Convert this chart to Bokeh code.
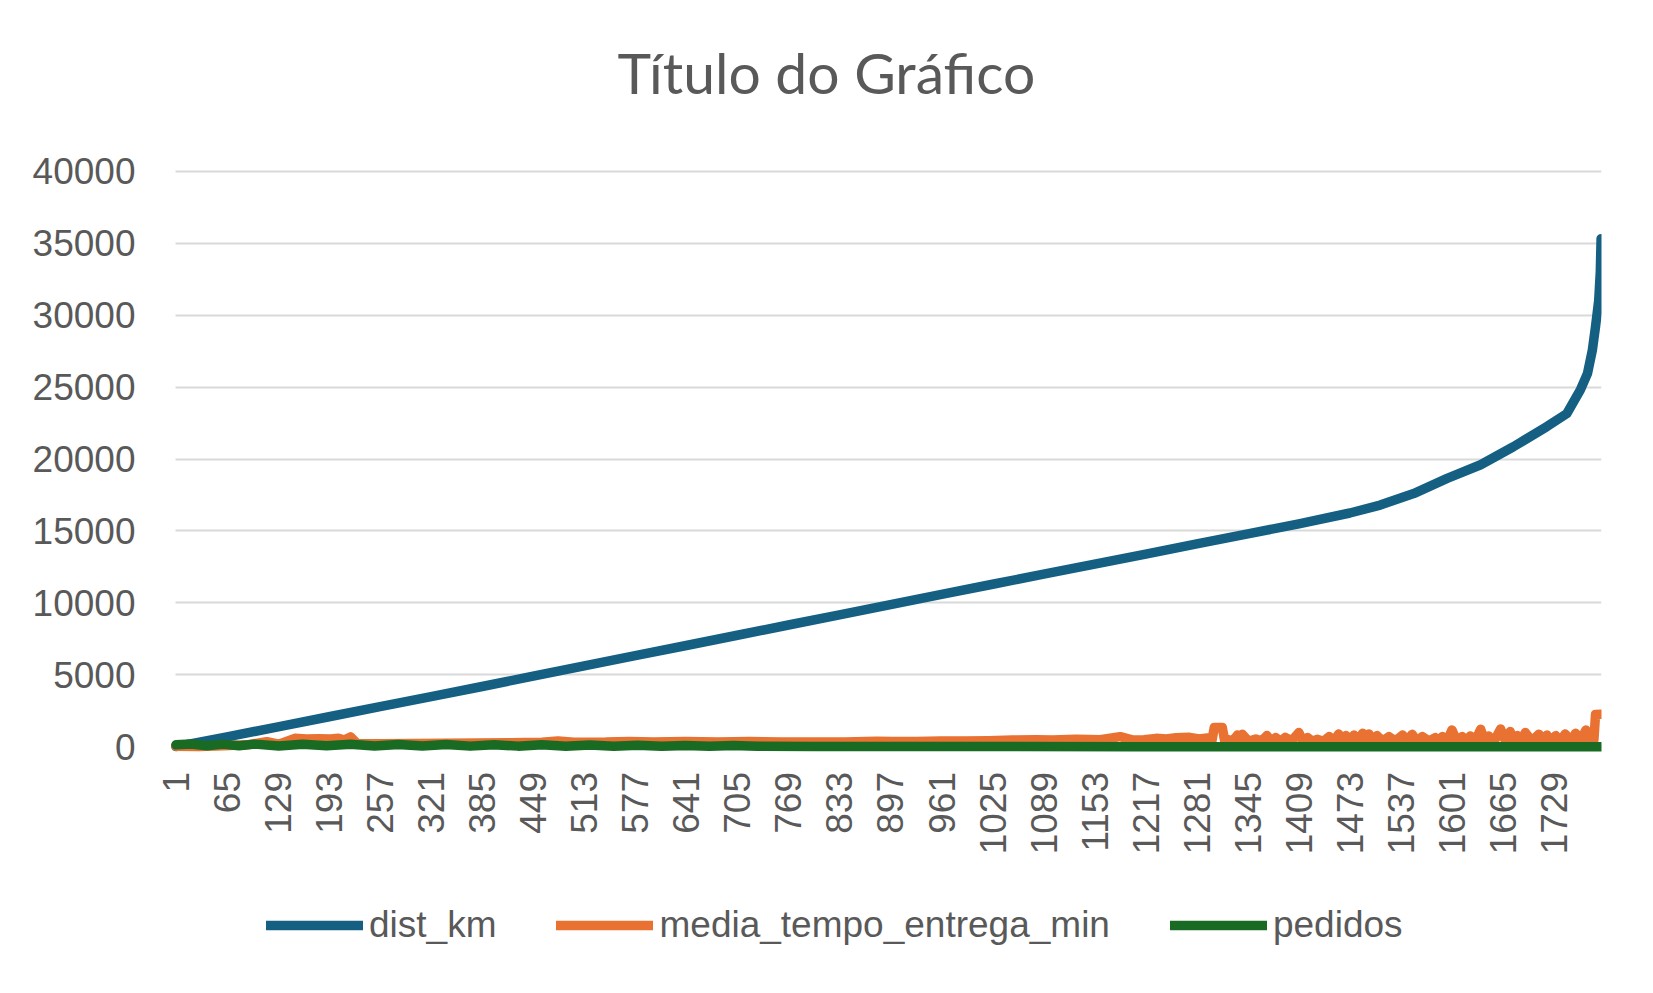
import math
from bokeh.plotting import figure
from bokeh.models import Range1d, FixedTicker, Legend, LegendItem, Title
from bokeh.embed import file_html
from bokeh.resources import INLINE

# ---------------- data ----------------
x_ticks = [1, 65, 129, 193, 257, 321, 385, 449, 513, 577, 641, 705, 769, 833,
           897, 961, 1025, 1089, 1153, 1217, 1281, 1345, 1409, 1473, 1537,
           1601, 1665, 1729]
y_ticks = [0, 5000, 10000, 15000, 20000, 25000, 30000, 35000, 40000]
n_categories = 1788

dist_cat = [1, 65, 129, 193, 257, 321, 385, 449, 513, 577, 641, 705, 769, 833,
            897, 961, 1025, 1089, 1153, 1217, 1281, 1345, 1409, 1473, 1511,
            1553, 1595, 1637, 1678, 1720, 1745, 1762, 1771, 1777, 1781, 1785,
            1787, 1788]
dist_km = [30, 700, 1400, 2100, 2800, 3500, 4200, 4920, 5630, 6340, 7050,
           7760, 8470, 9180, 9890, 10600, 11300, 12000, 12700, 13400, 14100,
           14800, 15500, 16250, 16800, 17600, 18650, 19600, 20850, 22250,
           23150, 24800, 25950, 27550, 29200, 31000, 33000, 35300]

tempo_cat = [1, 30, 60, 90, 115, 130, 150, 165, 180, 195, 205, 212, 220, 228,
             260, 300, 340, 380, 420, 460, 480, 500, 540, 570, 600, 640, 680,
             720, 760, 800, 840, 880, 900, 930, 960, 990, 1020, 1050, 1080,
             1100, 1130, 1160, 1185, 1200, 1215, 1230, 1243, 1255, 1272, 1284,
             1297, 1300, 1303, 1313, 1316, 1319, 1326, 1332, 1335, 1338, 1346,
             1355, 1362, 1369, 1374, 1380, 1386, 1392, 1400, 1409, 1414, 1420,
             1426, 1432, 1440, 1447, 1453, 1459, 1464, 1468, 1473, 1478, 1484,
             1489, 1493, 1497, 1502, 1507, 1514, 1522, 1530, 1539, 1545, 1551,
             1557, 1564, 1572, 1580, 1585, 1589, 1595, 1601, 1607, 1614, 1619,
             1624, 1630, 1637, 1642, 1647, 1654, 1662, 1668, 1674, 1679, 1683,
             1688, 1693, 1701, 1710, 1715, 1720, 1725, 1731, 1737, 1743, 1750,
             1756, 1762, 1769, 1773, 1777, 1779, 1781, 1788]
media_tempo_entrega_min = [60, 40, 80, 150, 370, 200, 600, 560, 580, 560, 600,
                           480, 700, 250, 230, 250, 260, 280, 290, 330, 410,
                           330, 340, 390, 340, 380, 345, 390, 340, 345, 340,
                           400, 380, 380, 420, 410, 430, 480, 500, 490, 530,
                           500, 720, 490, 500, 600, 555, 650, 670, 555,
                           650, 420, 1360, 1360, 420, 530, 400, 830, 420, 880,
                           400, 555, 400, 790, 400, 650, 400, 670, 420, 1000,
                           400, 650, 400, 530, 400, 720, 420, 900, 420, 790,
                           420, 830, 420, 950, 420, 900, 420, 790, 420, 720,
                           420, 830, 420, 880, 420, 720, 420, 650, 420, 720,
                           420, 1180, 420, 720, 420, 760, 420, 1230, 420, 760,
                           420, 1250, 420, 1070, 420, 790, 420, 1000, 420, 880,
                           420, 830, 420, 790, 420, 900, 420, 950, 420, 1180,
                           420, 880, 500, 2250, 2270]

ped_cat = [1, 20, 40, 60, 80, 100, 130, 160, 190, 220, 250, 280, 310, 340, 370,
           400, 430, 460, 490, 520, 550, 580, 610, 640, 670, 700, 730, 800, 900,
           1000, 1200, 1400, 1600, 1788]
pedidos = [150, 210, 90, 200, 80, 200, 70, 190, 80, 190, 70, 180, 70, 170, 60,
           160, 60, 150, 60, 140, 55, 120, 50, 110, 45, 100, 45, 40, 35, 30, 25,
           20, 15, 10]

series_names = ["dist_km", "media_tempo_entrega_min", "pedidos"]
series_colors = ["#156082", "#E97132", "#196B24"]
title_text = "Título do Gráfico"

# ---------------- figure ----------------
# The frame reaches down to the legend (x axis pinned at y = 0) and a little
# to the left of the first category, so the first tick label is not clipped.
x_start = 0.5 - 25 / 0.79754
p = figure(width=1645, height=993, output_backend="svg", toolbar_location=None,
           x_range=Range1d(x_start, n_categories + 0.5),
           y_range=Range1d(-16563, 40174),
           min_border_left=150, min_border_right=44,
           min_border_top=168, min_border_bottom=8)
p.outline_line_color = None
p.background_fill_color = "white"
p.border_fill_color = "white"

p.xgrid.visible = False
grid = p.ygrid[0]
grid.ticker = FixedTicker(ticks=y_ticks)
grid_color = "#D9D9D9"
if "cross_bounds" in grid.properties():
    grid.cross_bounds = (0.5, n_categories + 0.5)
    grid.grid_line_color = grid_color
    grid.grid_line_width = 2
else:
    grid.visible = False
    p.segment(x0=[0.5] * len(y_ticks), x1=[n_categories + 0.5] * len(y_ticks),
              y0=y_ticks, y1=y_ticks, line_color=grid_color, line_width=2)

p.yaxis.ticker = FixedTicker(ticks=y_ticks)
p.yaxis.major_label_overrides = {t: str(t) for t in y_ticks}
p.yaxis.axis_line_color = None
p.yaxis.major_tick_line_color = None
p.yaxis.minor_tick_line_color = None
p.yaxis.major_tick_out = 0
p.yaxis.major_label_standoff = 15
p.yaxis.major_label_text_font = "Liberation Sans"
p.yaxis.major_label_text_font_size = "37px"
p.yaxis.major_label_text_color = "#595959"

p.xaxis.fixed_location = 0
p.xaxis.ticker = FixedTicker(ticks=x_ticks)
p.xaxis.major_label_overrides = {t: str(t) for t in x_ticks}
p.xaxis.axis_line_color = None
p.xaxis.major_tick_line_color = None
p.xaxis.minor_tick_line_color = None
p.xaxis.major_tick_out = 0
p.xaxis.major_label_standoff = 25
p.xaxis.major_label_orientation = math.pi / 2
p.xaxis.major_label_text_font = "Liberation Sans"
p.xaxis.major_label_text_font_size = "37px"
p.xaxis.major_label_text_color = "#595959"

lw = 9.5
r1 = p.line(dist_cat, dist_km, line_color=series_colors[0], line_width=lw,
            line_cap="round", line_join="round")
r2 = p.line(tempo_cat, media_tempo_entrega_min, line_color=series_colors[1],
            line_width=lw, line_cap="round", line_join="round")
r3 = p.line(ped_cat, pedidos, line_color=series_colors[2], line_width=lw,
            line_cap="round", line_join="round")

legend = Legend(items=[LegendItem(label=series_names[0], renderers=[r1]),
                       LegendItem(label=series_names[1], renderers=[r2]),
                       LegendItem(label=series_names[2], renderers=[r3])],
                orientation="horizontal", location=(116, 38))
legend.padding = 0
legend.margin = 0
legend.spacing = 60
legend.glyph_width = 97
legend.glyph_height = 44
legend.label_height = 44
legend.label_standoff = 6
legend.border_line_color = None
legend.background_fill_alpha = 0
legend.label_text_font = "Liberation Sans"
legend.label_text_font_size = "37px"
legend.label_text_color = "#595959"
p.add_layout(legend)

# title: real title outermost, a blank spacer title next to the frame
p.title.text = title_text
p.title.align = "left"
p.title.offset = 467
p.title.standoff = 0
p.title.text_font = "Lato"
p.title.text_font_size = "57px"
p.title.text_font_style = "normal"
p.title.text_color = "#595959"
spacer = Title(text=" ", text_font_size="10px", standoff=50)
p.add_layout(spacer, "above")

open("out.html", "w").write(file_html(p, INLINE))
